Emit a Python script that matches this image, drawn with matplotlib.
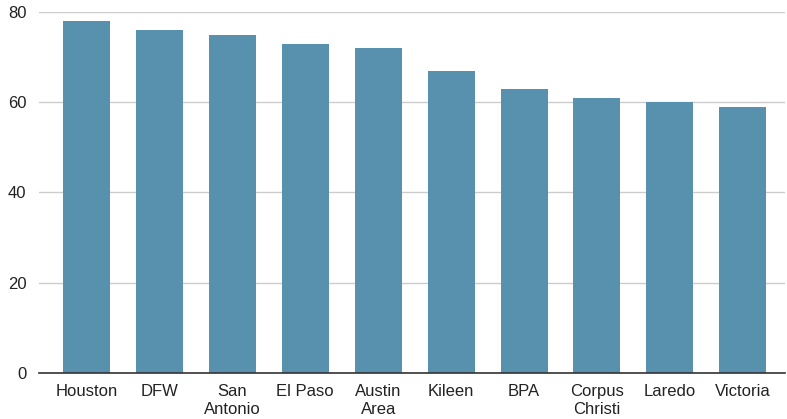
import matplotlib
matplotlib.use("Agg")
import matplotlib.pyplot as plt

categories = ["Houston", "DFW", "San\nAntonio", "El Paso", "Austin\nArea", "Kileen",
              "BPA", "Corpus\nChristi", "Laredo", "Victoria"]
values = [78, 76, 75, 73, 72, 67, 63, 61, 60, 59]
yticks = [0, 20, 40, 60, 80]

plt.rcParams['font.family'] = ['Liberation Sans', 'DejaVu Sans']
fig = plt.figure(figsize=(7.87, 4.19), dpi=100)
ax = fig.add_axes([0.0496, 0.1098, 0.948, 0.8616])
x = list(range(len(categories)))
ax.bar(x, values, width=0.645, color="#5891ad", zorder=3)
ax.set_ylim(0, 80)
ax.set_xlim(-0.65, 9.58)
ax.set_yticks(yticks)
ax.set_xticks(x)
ax.set_xticklabels(categories, fontsize=12, color="#222222", linespacing=1.2)
ax.tick_params(axis='y', labelsize=12, colors="#222222", length=0, pad=9)
ax.tick_params(axis='x', length=0, pad=8)
ax.grid(axis='y', color="#cccccc", linewidth=1, zorder=0)
for s in ["top", "right", "left"]:
    ax.spines[s].set_visible(False)
ax.spines["bottom"].set_color("#333333")
ax.spines["bottom"].set_linewidth(1.2)
ax.spines["bottom"].set_zorder(4)
fig.savefig("out.png", dpi=100)
